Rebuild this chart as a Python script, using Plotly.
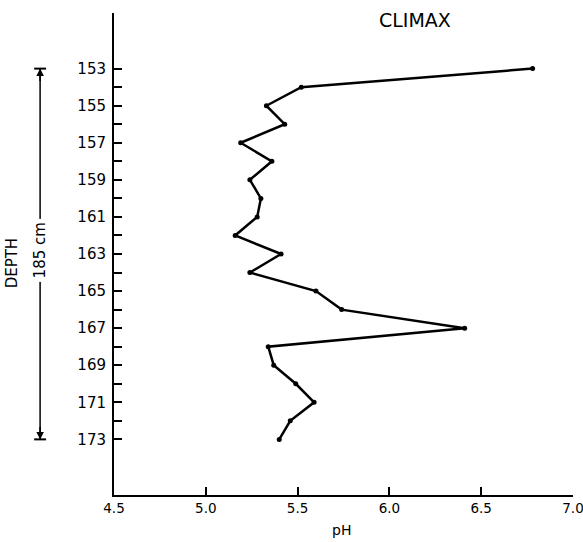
import plotly.graph_objects as go

depth = [153, 154, 155, 156, 157, 158, 159, 160, 161, 162, 163, 164, 165, 166, 167, 168, 169, 170, 171, 172, 173]
ph = [6.78, 5.52, 5.33, 5.43, 5.19, 5.36, 5.24, 5.30, 5.28, 5.16, 5.41, 5.24, 5.60, 5.74, 6.41, 5.34, 5.37, 5.49, 5.59, 5.46, 5.40]

y_major = [153, 155, 157, 159, 161, 163, 165, 167, 169, 171, 173]
y_minor = [150, 154, 156, 158, 160, 162, 164, 166, 168, 170, 172]
x_ticks = [4.5, 5.0, 5.5, 6.0, 6.5, 7.0]
x_labels = ["4.5", "5.0", "5.5", "6.0", "6.5", "7.0"]

FONT = "DejaVu Sans"

fig = go.Figure()
fig.add_trace(go.Scatter(
    x=ph, y=depth, mode="lines+markers",
    line=dict(color="black", width=2.5),
    marker=dict(color="black", size=5),
    showlegend=False, hoverinfo="x+y",
))

bar_x = -0.161
dmin, dmax = min(depth), max(depth)
shapes = [
    dict(type="line", xref="paper", yref="y", x0=bar_x, x1=bar_x, y0=dmin, y1=dmax,
         line=dict(color="black", width=1.5)),
    dict(type="line", xref="paper", yref="y", x0=bar_x - 0.013, x1=bar_x + 0.013, y0=dmin, y1=dmin,
         line=dict(color="black", width=2)),
    dict(type="line", xref="paper", yref="y", x0=bar_x - 0.013, x1=bar_x + 0.013, y0=dmax, y1=dmax,
         line=dict(color="black", width=2)),
]

annotations = [
    dict(text="CLIMAX", xref="paper", yref="paper", x=0.656, y=0.985, xanchor="center", yanchor="middle",
         showarrow=False, font=dict(family=FONT, size=19, color="black")),
    dict(text="pH", xref="paper", yref="paper", x=0.496, y=-0.073, xanchor="center", yanchor="middle",
         showarrow=False, font=dict(family=FONT, size=14, color="black")),
    dict(text="185 cm", xref="paper", yref="y", x=bar_x, y=162.8, textangle=-90,
         xanchor="center", yanchor="middle",
         showarrow=False, bgcolor="white", borderpad=3,
         font=dict(family=FONT, size=15, color="black")),
    dict(text="DEPTH", xref="paper", yref="y", x=-0.222, y=163.5, textangle=-90,
         xanchor="center", yanchor="middle",
         showarrow=False, font=dict(family=FONT, size=15, color="black")),
    dict(text="", xref="paper", yref="y", x=bar_x, y=dmin, ax=0, ay=14, showarrow=True,
         arrowhead=2, arrowsize=1, arrowwidth=1.5, arrowcolor="black", standoff=0),
    dict(text="", xref="paper", yref="y", x=bar_x, y=dmax, ax=0, ay=-14, showarrow=True,
         arrowhead=2, arrowsize=1, arrowwidth=1.5, arrowcolor="black", standoff=0),
]

fig.update_layout(
    width=583, height=542,
    margin=dict(l=114, r=10, t=13, b=47, autoexpand=False),
    paper_bgcolor="white", plot_bgcolor="white",
    font=dict(family=FONT, color="black"),
    shapes=shapes, annotations=annotations,
    xaxis=dict(range=[4.5, 7.0], tickvals=x_ticks, ticktext=x_labels,
               ticks="inside", ticklen=8, tickwidth=1.5, tickcolor="black",
               showline=True, linecolor="black", linewidth=2, showgrid=False, zeroline=False,
               automargin=False, ticklabeloverflow="allow",
               tickfont=dict(family=FONT, size=13.5, color="black")),
    yaxis=dict(range=[176, 150], tickvals=y_major,
               ticks="inside", ticklen=8, tickwidth=1.5, tickcolor="black",
               minor=dict(tickvals=y_minor, ticks="inside", ticklen=8, tickwidth=1.5, tickcolor="black"),
               showline=True, linecolor="black", linewidth=2, showgrid=False, zeroline=False,
               automargin=False, ticklabeloverflow="allow",
               tickfont=dict(family=FONT, size=15, color="black"), ticklabelstandoff=3),
)

fig.write_html("out.html", config={"displayModeBar": False},
               post_script="document.body.style.margin='0';document.body.style.padding='0';")
